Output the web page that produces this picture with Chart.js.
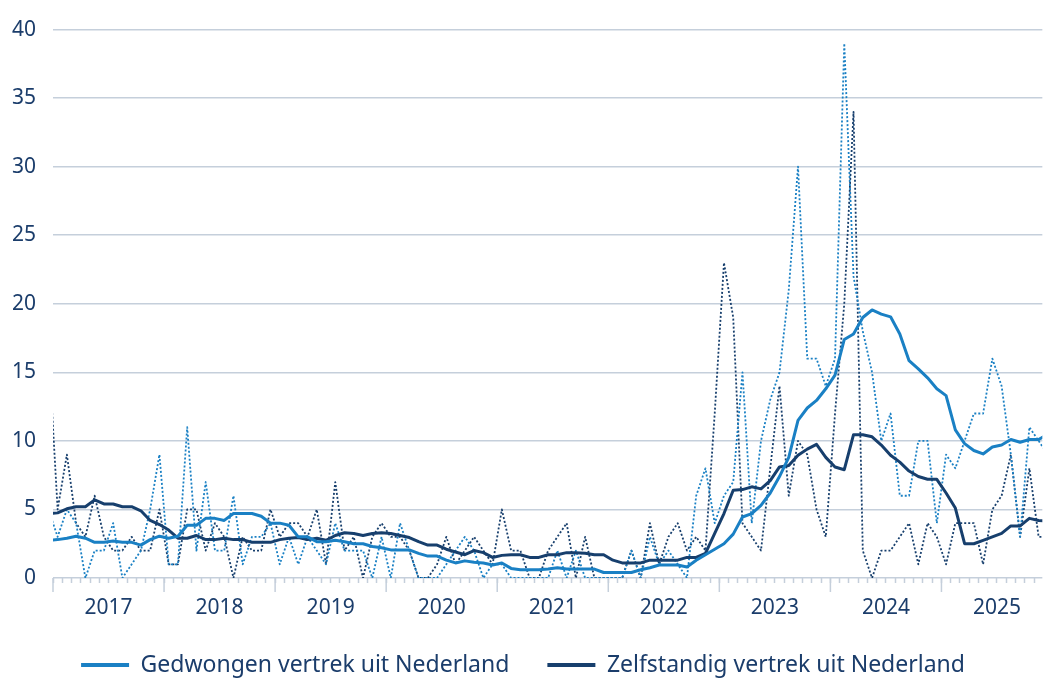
<!DOCTYPE html>
<html lang="nl">
<head>
<meta charset="UTF-8">
<title>Vertrek uit Nederland</title>
<script src="https://cdn.jsdelivr.net/npm/chart.js"></script>
<style>
  body { margin: 0; background: #fff; }
  #wrap { width: 1046px; height: 679px; position: relative; }
</style>
</head>
<body>
<div id="wrap"><canvas id="grafiek"></canvas></div>
<script>
// maanden: dec 2016 (net buiten beeld) t/m dec 2025
const jaren = ['2017', '2018', '2019', '2020', '2021', '2022', '2023', '2024', '2025'];
const maandNamen = ['jan', 'feb', 'mrt', 'apr', 'mei', 'jun', 'jul', 'aug', 'sep', 'okt', 'nov', 'dec'];
const maanden = ['dec 2016'].concat(jaren.flatMap(j => maandNamen.map(m => m + ' ' + j)));

// gedwongen vertrek, per maand (stippellijn)
const gedwongen = [5,
  3, 5, 4, 0, 2, 2, 4, 0, 1, 2, 5, 9,
  1, 1, 11, 2, 7, 2, 2, 6, 1, 3, 3, 4,
  1, 3, 1, 3, 2, 1, 4, 2, 2, 2, 0, 3,
  0, 4, 2, 0, 0, 0, 1, 2, 3, 2, 0, 1,
  1, 0, 0, 0, 0, 0, 2, 0, 2, 0, 0, 0,
  0, 0, 2, 0, 3, 1, 2, 1, 0, 6, 8, 4,
  6, 7, 15, 4, 10, 13, 15, 21, 30, 16, 16, 14,
  16, 39, 22, 18, 15, 10, 12, 6, 6, 10, 10, 4,
  9, 8, 10, 12, 12, 16, 14, 9, 3, 11, 10, 9];

// zelfstandig vertrek, per maand (stippellijn)
const zelfstandig = [17,
  5, 9, 4, 3, 6, 3, 2, 2, 3, 2, 2, 5,
  1, 1, 5, 5, 2, 4, 3, 0, 3, 2, 2, 5,
  3, 4, 4, 3, 5, 1, 7, 2, 3, 0, 3, 4,
  3, 3, 2, 0, 0, 1, 3, 1, 2, 3, 2, 1,
  5, 2, 2, 0, 0, 2, 3, 4, 0, 3, 0, 0,
  0, 0, 2, 0, 4, 1, 3, 4, 2, 3, 2, 12,
  23, 19, 4, 3, 2, 8, 14, 6, 10, 9, 5, 3,
  12, 20, 34, 2, 0, 2, 2, 3, 4, 1, 4, 3,
  1, 4, 4, 4, 1, 5, 6, 9, 3, 8, 3, 3];

// voortschrijdend gemiddelde (doorgetrokken lijn)
const gedwongenGem = [2.75,
  2.8, 2.9, 3.05, 2.9, 2.6, 2.6, 2.7, 2.6, 2.6, 2.4, 2.8, 3.05,
  2.9, 3.05, 3.85, 3.85, 4.35, 4.35, 4.2, 4.7, 4.7, 4.7, 4.5, 4.0,
  4.0, 3.85, 3.0, 3.0, 2.65, 2.65, 2.75, 2.65, 2.5, 2.5, 2.3, 2.2,
  2.05, 2.05, 2.05, 1.8, 1.6, 1.6, 1.3, 1.1, 1.25, 1.15, 1.1, 0.95,
  1.1, 0.7, 0.6, 0.6, 0.6, 0.65, 0.75, 0.65, 0.65, 0.65, 0.65, 0.4,
  0.4, 0.4, 0.4, 0.6, 0.75, 0.95, 0.95, 0.95, 0.8, 1.3, 1.7, 2.1,
  2.5, 3.2, 4.45, 4.7, 5.3, 6.2, 7.4, 8.8, 11.5, 12.4, 12.95, 13.8,
  14.8, 17.4, 17.8, 19.0, 19.55, 19.25, 19.05, 17.8, 15.85, 15.25, 14.6, 13.8,
  13.3, 10.8, 9.8, 9.3, 9.05, 9.55, 9.7, 10.1, 9.9, 10.1, 10.1, 10.5];

const zelfstandigGem = [4.7,
  4.75, 5.05, 5.2, 5.2, 5.7, 5.4, 5.4, 5.2, 5.2, 4.9, 4.2, 3.9,
  3.5, 2.9, 2.9, 3.1, 2.8, 2.8, 2.9, 2.8, 2.8, 2.6, 2.6, 2.6,
  2.8, 2.9, 2.95, 2.8, 2.9, 2.75, 3.1, 3.3, 3.25, 3.1, 3.25, 3.3,
  3.25, 3.1, 2.95, 2.65, 2.4, 2.4, 2.1, 1.9, 1.7, 2.0, 1.85, 1.5,
  1.65, 1.7, 1.7, 1.5, 1.5, 1.7, 1.7, 1.85, 1.85, 1.8, 1.7, 1.7,
  1.3, 1.1, 1.1, 1.1, 1.3, 1.3, 1.3, 1.3, 1.5, 1.5, 1.8, 3.25,
  4.7, 6.4, 6.45, 6.65, 6.5, 7.1, 8.1, 8.2, 8.95, 9.4, 9.75, 8.8,
  8.1, 7.9, 10.45, 10.45, 10.3, 9.7, 8.95, 8.45, 7.8, 7.4, 7.2, 7.2,
  6.2, 5.1, 2.5, 2.5, 2.75, 3.0, 3.25, 3.8, 3.8, 4.35, 4.2, 4.15];

const lichtblauw = '#1a80c4';
const donkerblauw = '#173f6d';
const rasterKleur = '#c5cfdb';
const tekstKleur = '#1b3d6b';

// x = maandnummer, jan 2017 = 0
const punten = reeks => reeks.map((v, i) => ({ x: i - 1, y: v }));
const maandGrenzen = maanden.slice(1).map((m, i) => i - 0.5);

// lange streepjes op de jaargrenzen
const jaarStreepjes = {
  id: 'jaarStreepjes',
  afterDraw(chart) {
    const x = chart.scales.x;
    const ctx = chart.ctx;
    const onder = chart.chartArea.bottom;
    ctx.save();
    ctx.strokeStyle = rasterKleur;
    ctx.lineWidth = 1.5;
    jaren.forEach((j, n) => {
      const px = x.getPixelForValue(n * 12 - 0.5);
      ctx.beginPath();
      ctx.moveTo(px, onder);
      ctx.lineTo(px, onder + 14);
      ctx.stroke();
    });
    ctx.restore();
  }
};

Chart.defaults.font.family = "'Noto Sans', sans-serif";
Chart.defaults.font.size = 21;
Chart.defaults.color = tekstKleur;

new Chart(document.getElementById('grafiek'), {
  type: 'line',
  data: {
    datasets: [
      { label: 'Gedwongen vertrek uit Nederland', data: punten(gedwongenGem), borderColor: lichtblauw, backgroundColor: lichtblauw, borderWidth: 3 },
      { label: 'Zelfstandig vertrek uit Nederland', data: punten(zelfstandigGem), borderColor: donkerblauw, backgroundColor: donkerblauw, borderWidth: 3 },
      { label: 'Gedwongen per maand', data: punten(gedwongen), borderColor: lichtblauw, borderWidth: 1.8, borderDash: [2, 2] },
      { label: 'Zelfstandig per maand', data: punten(zelfstandig), borderColor: donkerblauw, borderWidth: 1.8, borderDash: [2, 2] }
    ]
  },
  options: {
    responsive: true,
    maintainAspectRatio: false,
    animation: false,
    layout: { padding: { top: 27, right: 0, left: 0, bottom: -7.5 } },
    elements: {
      point: { radius: 0 },
      line: { tension: 0, fill: false, borderJoinStyle: 'round' }
    },
    plugins: {
      tooltip: { enabled: false },
      legend: {
        position: 'bottom',
        labels: {
          boxWidth: 48,
          boxHeight: 4,
          padding: 38,
          color: tekstKleur,
          font: { size: 23 },
          filter: item => item.datasetIndex < 2,
          generateLabels: chart => Chart.defaults.plugins.legend.labels.generateLabels(chart)
            .map(l => Object.assign(l, { lineWidth: 0, lineDash: [] }))
        }
      }
    },
    scales: {
      x: {
        type: 'linear',
        min: -0.5,
        max: 106.4,
        afterBuildTicks: scale => { scale.ticks = maandGrenzen.filter(v => v <= 106.4).map(v => ({ value: v })); },
        afterFit: scale => { scale.height = 37.5; },
        ticks: {
          autoSkip: false,
          maxRotation: 0,
          padding: 12,
          callback: v => ((v + 0.5) % 12 === 6 ? jaren[(v + 0.5 - 6) / 12] : '')
        },
        grid: { drawOnChartArea: false, tickLength: 5, tickColor: rasterKleur, tickWidth: 1.5 },
        border: { display: false }
      },
      y: {
        min: 0,
        max: 40,
        afterFit: scale => { scale.width = 53; },
        ticks: { stepSize: 5, padding: 17 },
        grid: { color: rasterKleur, lineWidth: 1.5, drawTicks: false },
        border: { display: false }
      }
    }
  },
  plugins: [jaarStreepjes]
});
</script>
</body>
</html>
